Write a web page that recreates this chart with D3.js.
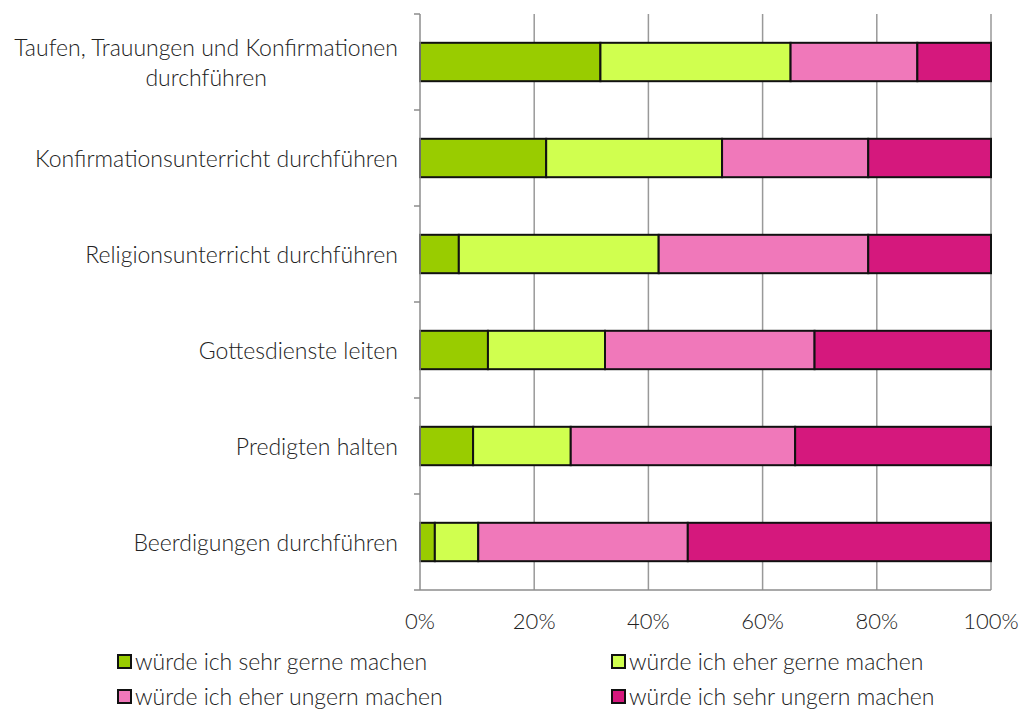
<!DOCTYPE html>
<html>
<head>
<meta charset="utf-8">
<script src="https://cdn.jsdelivr.net/npm/d3@7"></script>
<style>
  body { margin: 0; background: #fff; }
  svg { display: block; font-family: Lato, "Open Sans", sans-serif; font-weight: 300; }
</style>
</head>
<body>
<svg id="chart" width="1020" height="711"></svg>
<script>
const categories = [
  ['Taufen, Trauungen und Konfirmationen', 'durchführen'],
  ['Konfirmationsunterricht durchführen'],
  ['Religionsunterricht durchführen'],
  ['Gottesdienste leiten'],
  ['Predigten halten'],
  ['Beerdigungen durchführen']
];
const seriesNames = [
  'würde ich sehr gerne machen',
  'würde ich eher gerne machen',
  'würde ich eher ungern machen',
  'würde ich sehr ungern machen'
];
const sehrGerne  = [31.6, 22.1,  6.8, 11.9,  9.3,  2.6];
const eherGerne  = [33.3, 30.8, 35.0, 20.5, 17.1,  7.6];
const eherUngern = [22.2, 25.6, 36.7, 36.7, 39.3, 36.7];
const sehrUngern = [12.9, 21.5, 21.5, 30.9, 34.3, 53.1];
const colors = ['#99cc00', '#d0ff4f', '#f078ba', '#d5187d'];
const xTicks = [0, 0.2, 0.4, 0.6, 0.8, 1];

const keys = ['a', 'b', 'c', 'd'];
const rows = categories.map((c, i) => ({
  id: i, a: sehrGerne[i], b: eherGerne[i], c: eherUngern[i], d: sehrUngern[i]
}));
const stacked = d3.stack().keys(keys).offset(d3.stackOffsetExpand)(rows);

const svg = d3.select('#chart');
const plotLeft = 420, plotRight = 991, plotTop = 14, plotBottom = 590;
const fs = 23;

const x = d3.scaleLinear().domain([0, 1]).range([plotLeft, plotRight]);
const y = d3.scaleBand().domain(d3.range(categories.length)).range([plotTop, plotBottom]).paddingInner(0.6).paddingOuter(0.3);
const yb = d3.scaleBand().domain(d3.range(categories.length)).range([plotTop, plotBottom]);

// gridlines
svg.append('g').selectAll('line').data(xTicks.slice(1)).enter().append('line')
  .attr('x1', d => x(d)).attr('x2', d => x(d))
  .attr('y1', plotTop).attr('y2', plotBottom)
  .attr('stroke', '#999').attr('stroke-width', 1.5);

// bars
svg.append('g').selectAll('g').data(stacked).enter().append('g')
  .attr('fill', (d, i) => colors[i])
  .selectAll('rect').data(d => d).enter().append('rect')
  .attr('x', d => x(d[0]))
  .attr('width', d => x(d[1]) - x(d[0]))
  .attr('y', d => y(d.data.id))
  .attr('height', y.bandwidth())
  .attr('stroke', '#111').attr('stroke-width', 2);

// y axis line + ticks
const axisColor = '#8c8c8c';
svg.append('line').attr('x1', plotLeft).attr('x2', plotLeft).attr('y1', plotTop).attr('y2', plotBottom)
  .attr('stroke', axisColor).attr('stroke-width', 1.5);
const bounds = d3.range(categories.length + 1).map(i => i < categories.length ? yb(i) : plotBottom);
svg.append('g').selectAll('line').data(bounds).enter().append('line')
  .attr('x1', plotLeft - 6).attr('x2', plotLeft).attr('y1', d => d).attr('y2', d => d)
  .attr('stroke', axisColor).attr('stroke-width', 1.5);

// x axis line
svg.append('line').attr('x1', plotLeft).attr('x2', plotRight).attr('y1', plotBottom).attr('y2', plotBottom)
  .attr('stroke', axisColor).attr('stroke-width', 1.5);

// x tick labels
svg.append('g').selectAll('text').data(xTicks).enter().append('text')
  .attr('x', d => x(d)).attr('y', 629)
  .attr('text-anchor', 'middle').attr('font-size', 22).attr('fill', '#222')
  .text(d => d3.format('.0%')(d));

// category labels
const catG = svg.append('g').selectAll('text').data(categories).enter().append('text')
  .attr('font-size', fs).attr('fill', '#222');
catG.each(function(lines, i) {
  const t = d3.select(this);
  const cy = y(i) + y.bandwidth() / 2;
  const lh = 30;
  if (lines.length === 1) {
    t.attr('text-anchor', 'end').attr('x', 398).attr('y', cy + 8.5).text(lines[0]);
  } else {
    t.attr('text-anchor', 'middle');
    t.text(lines[0]);
    const w = this.getComputedTextLength();
    t.text(null);
    const cx = 398 - w / 2;
    lines.forEach((l, j) => {
      t.append('tspan').attr('x', cx).attr('y', cy + 8.5 + (j - (lines.length - 1) / 2) * lh).text(l);
    });
  }
});

// legend
const legendPos = [[117, 662], [611, 662], [117, 697], [611, 697]];
const lg = svg.append('g').selectAll('g').data(seriesNames).enter().append('g')
  .attr('transform', (d, i) => `translate(${legendPos[i][0]},${legendPos[i][1]})`);
lg.append('rect').attr('x', 1).attr('y', -7).attr('width', 13).attr('height', 13)
  .attr('fill', (d, i) => colors[i]).attr('stroke', '#111').attr('stroke-width', 2);
lg.append('text').attr('x', 18).attr('y', 8).attr('font-size', fs).attr('fill', '#222').text(d => d);
</script>
</body>
</html>
